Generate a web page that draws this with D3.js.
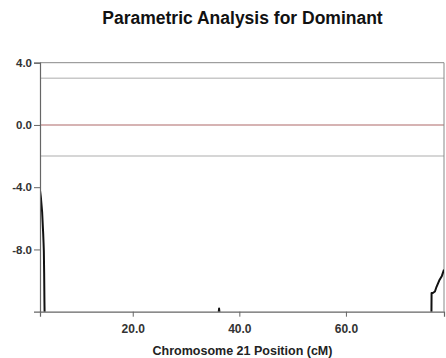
<!DOCTYPE html>
<html><head><meta charset="utf-8">
<script src="https://cdn.jsdelivr.net/npm/d3@7"></script>
<style>body{margin:0;background:#fff}svg{display:block}</style>
</head><body>
<script>
const title = "Parametric Analysis for Dominant";
const xTitle = "Chromosome 21 Position (cM)";
const xTicks = [20, 40, 60];
const yTicks = [4, 0, -4, -8];
const thresholds = [3, -2];
const zeroLine = [0];
// LOD curve: position (cM) and score; values below -12 fall off the chart
const positions = [2.6, 2.75, 2.9, 3.0, 3.1, 3.2, 3.27, 3.32, 3.38, 3.43, 3.5, 3.6, 35.95, 36.05, 36.2, 36.35, 36.45, 75.9, 76.0, 76.07, 76.3, 76.7, 77.0, 77.5, 78.0, 78.4];
const lod = [-4.2, -4.6, -5.2, -5.6, -6.3, -7.0, -7.6, -8.1, -9.5, -11.3, -13, -20, -20, -12.3, -11.8, -12.3, -20, -20, -14, -10.8, -10.8, -10.7, -10.4, -10.0, -9.7, -9.3];

const W = 446, H = 358;
const m = {left: 40, right: 2, top: 62.7, bottom: 46.3};
const svg = d3.select("body").append("svg").attr("width", W).attr("height", H)
  .style("font-family", "Arial, 'Liberation Sans', sans-serif");

const x = d3.scaleLinear().domain([2.6, 78.4]).range([m.left, W - m.right]);
const y = d3.scaleLinear().domain([-12, 4]).range([H - m.bottom, m.top]);

svg.append("defs").append("clipPath").attr("id", "clip").append("rect")
  .attr("x", m.left).attr("y", m.top).attr("width", W - m.right - m.left).attr("height", H - m.bottom - m.top);

// threshold lines
svg.selectAll(".thr").data(thresholds).join("line")
  .attr("x1", m.left).attr("x2", W - m.right)
  .attr("y1", d => y(d)).attr("y2", d => y(d))
  .attr("stroke", "#c8c8c8").attr("stroke-width", 1.5);
svg.selectAll(".zero").data(zeroLine).join("line")
  .attr("x1", m.left).attr("x2", W - m.right)
  .attr("y1", d => y(d)).attr("y2", d => y(d))
  .attr("stroke", "#c89a9a").attr("stroke-width", 1.5);

// border (top & right)
svg.append("path")
  .attr("d", `M${m.left},${m.top}H${W - m.right}V${H - m.bottom}`)
  .attr("fill", "none").attr("stroke", "#888").attr("stroke-width", 1);

// curve
const pts = positions.map((p, i) => [p, lod[i]]);
svg.append("path").datum(pts)
  .attr("clip-path", "url(#clip)")
  .attr("d", d3.line().x(d => x(d[0])).y(d => y(d[1])))
  .attr("fill", "none").attr("stroke", "#111").attr("stroke-width", 2).attr("stroke-linejoin", "round");

// axes
const yAxis = svg.append("g").attr("transform", `translate(${m.left},0)`)
  .call(d3.axisLeft(y).tickValues(yTicks).tickFormat(d3.format(".1f")).tickSize(6).tickPadding(2));
const xAxis = svg.append("g").attr("transform", `translate(0,${H - m.bottom})`)
  .call(d3.axisBottom(x).tickValues(xTicks).tickFormat(d3.format(".1f")).tickSize(5).tickPadding(8));
[yAxis, xAxis].forEach(g => {
  g.select(".domain").attr("stroke", "#666").attr("stroke-width", 1.2);
  g.selectAll(".tick line").attr("stroke", "#666");
  g.selectAll(".tick text").attr("fill", "#333").style("font-size", "12px").style("font-weight", "bold")
    .style("font-family", "Arial, 'Liberation Sans', sans-serif");
});
yAxis.selectAll(".tick text").style("font-size", "11.5px").text(d => d3.format(".1f")(d).replace("−", "-"));

svg.append("text").attr("x", 242.5).attr("y", 24).attr("text-anchor", "middle")
  .style("font-size", "17.5px").style("font-weight", "bold").attr("fill", "#111").text(title);
svg.append("text").attr("x", 242.5).attr("y", 355).attr("text-anchor", "middle")
  .style("font-size", "12.5px").style("font-weight", "bold").attr("fill", "#222").text(xTitle);
</script>
</body></html>
